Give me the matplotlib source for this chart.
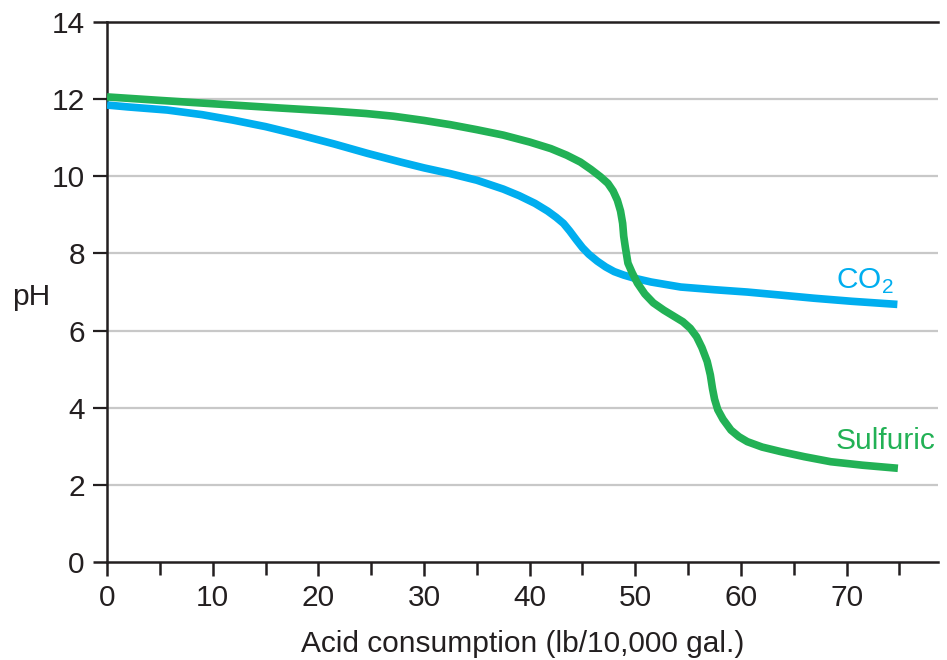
import matplotlib
matplotlib.use("Agg")
import matplotlib.pyplot as plt

plt.rcParams['font.family'] = ['Liberation Sans', 'DejaVu Sans']
plt.rcParams['mathtext.fontset'] = 'custom'
plt.rcParams['mathtext.rm'] = 'Liberation Sans'

# values
co2_x = [0, 2, 5.7, 9, 11.9, 15, 18.3, 21.5, 24.6, 27.8, 30.0, 32.5, 35.0, 37.5, 39.0, 40.5,
         41.7, 42.5, 43.2, 43.8, 44.4, 45.0, 45.6, 46.4, 47.2, 48.0, 48.9, 49.9, 51.5, 54.3,
         57.5, 60.6, 63.8, 66.9, 70.5, 74.8]
co2_y = [11.85, 11.8, 11.72, 11.6, 11.46, 11.29, 11.07, 10.84, 10.6, 10.37, 10.22, 10.07, 9.9,
         9.67, 9.5, 9.3, 9.1, 8.94, 8.78, 8.58, 8.36, 8.15, 7.98, 7.8, 7.65, 7.53, 7.44, 7.36,
         7.26, 7.13, 7.06, 7.0, 6.92, 6.84, 6.76, 6.68]

sulf_x = [0, 5, 11.9, 16.5, 21.4, 24.5, 27.1, 30.0, 32.5, 35.0, 37.5, 40.0, 42.0, 43.5, 44.8,
          45.8, 46.7, 47.4, 47.9, 48.3, 48.6, 48.8, 48.9, 49.05, 49.3, 49.7, 50.2, 50.9, 51.7,
          52.7, 53.6, 54.5, 55.2, 55.8, 56.3, 56.8, 57.1, 57.3, 57.5, 57.8, 58.3, 59.05, 59.8,
          60.6, 62.0, 63.8, 66.0, 68.5, 71.5, 74.85]
sulf_y = [12.06, 11.97, 11.85, 11.77, 11.69, 11.63, 11.56, 11.45, 11.34, 11.21, 11.07, 10.89,
          10.72, 10.55, 10.37, 10.18, 9.99, 9.82, 9.62, 9.38, 9.1, 8.78, 8.45, 8.17, 7.75, 7.5,
          7.23, 6.95, 6.72, 6.53, 6.38, 6.23, 6.06, 5.84, 5.56, 5.2, 4.85, 4.5, 4.22, 3.95,
          3.7, 3.42, 3.25, 3.12, 2.98, 2.86, 2.73, 2.6, 2.51, 2.43]

x_ticks = [0, 10, 20, 30, 40, 50, 60, 70]
x_minor = [5, 15, 25, 35, 45, 55, 65, 75]
y_ticks = [0, 2, 4, 6, 8, 10, 12, 14]

text_col = '#231f20'
grid_col = '#c8c8c8'
blue = '#00aeef'
green = '#22b155'
fs = 21.5

fig = plt.figure(figsize=(9.47, 6.60), dpi=100)
ax = fig.add_axes([0.113, 0.1485, 0.877, 0.818])

for yv in y_ticks[1:-1]:
    ax.axhline(yv, color=grid_col, lw=1.6, zorder=1)

ax.plot(co2_x, co2_y, color=blue, lw=5.5, solid_joinstyle='round', solid_capstyle='butt', zorder=3)
ax.plot(sulf_x, sulf_y, color=green, lw=5.5, solid_joinstyle='round', solid_capstyle='butt', zorder=3)

ax.set_xlim(0, 78.6)
ax.set_ylim(0, 14)
ax.set_xticks(x_ticks)
ax.set_xticks(x_minor, minor=True)
ax.set_yticks(y_ticks)

for s in ['left', 'bottom', 'top']:
    ax.spines[s].set_linewidth(1.8)
    ax.spines[s].set_color(text_col)
ax.spines['right'].set_visible(False)

ax.tick_params(axis='both', which='both', direction='out', length=10, width=1.8,
               color=text_col, labelcolor=text_col, labelsize=fs)
ax.tick_params(axis='x', which='minor', length=9)
ax.tick_params(axis='x', which='both', pad=6)
ax.tick_params(axis='y', pad=6)

# inner y ticks continue the grey gridlines
for t in ax.yaxis.get_major_ticks()[1:-1]:
    t.tick1line.set_color(grid_col)
    t.tick1line.set_markeredgewidth(1.6)

ax.set_xlabel('Acid consumption (lb/10,000 gal.)', fontsize=fs, color=text_col, labelpad=13)
ax.set_ylabel('pH', fontsize=fs, color=text_col, rotation=0, ha='right', va='center')
ax.yaxis.set_label_coords(-0.068, 0.49)

ax.text(69.0, 7.08, r'CO$_\mathrm{2}$', color=blue, fontsize=fs, va='baseline')
ax.text(69.0, 2.93, 'Sulfuric', color=green, fontsize=fs, va='baseline')

fig.savefig('out.png', dpi=100)
